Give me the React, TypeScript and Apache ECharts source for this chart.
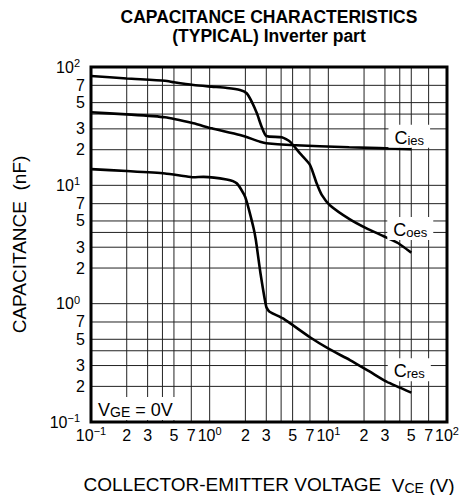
import React, { useEffect, useRef } from "react";
import * as echarts from "echarts";

// Axis ranges (log axes)
const X_MIN = 0.1;
const X_MAX = 100;
const Y_MIN = 0.1;
const Y_MAX = 100;

// Gridline values and labelled values
const gridValues = [0.1, 0.2, 0.3, 0.4, 0.5, 0.7, 1, 2, 3, 4, 5, 7, 10, 20, 30, 40, 50, 70, 100];
const labelValues = [0.1, 0.2, 0.3, 0.5, 0.7, 1, 2, 3, 5, 7, 10, 20, 30, 50, 70, 100];

// Curves: [VCE (V), capacitance (nF)]
const coes: [number, number][] = [
  [0.1, 84], [0.2, 80], [0.42, 76.6], [0.5, 74.3], [0.73, 70.4], [1.04, 68.2],
  [1.4, 66.5], [1.8, 64], [2.05, 60], [2.26, 51], [2.5, 40.6], [2.74, 31.3],
  [3.0, 26.1], [4.05, 25.5], [4.75, 23.4], [5.77, 18.6], [7.0, 14.9], [7.97, 10.4],
  [8.8, 8.3], [10.3, 6.8], [15.2, 5.16], [21, 4.33], [29, 3.73], [38.9, 3.24], [50, 2.7],
];
const cies: [number, number][] = [
  [0.1, 41.4], [0.2, 39.8], [0.42, 37.6], [0.73, 33.4], [1.04, 30.3], [1.8, 26.6],
  [2.66, 23.4], [3.0, 22.7], [4.75, 21.9], [15, 21], [50, 20.2],
];
const cres: [number, number][] = [
  [0.1, 13.7], [0.2, 13.2], [0.42, 12.6], [0.6, 12.0], [0.73, 11.7], [0.886, 11.8],
  [1.39, 11.2], [1.69, 10.4], [1.99, 8.0], [2.33, 4.47], [2.45, 3.45], [2.68, 1.81],
  [3.0, 0.94], [3.2, 0.855], [4.15, 0.75], [7.0, 0.52], [10.3, 0.41], [15.2, 0.334],
  [22.4, 0.266], [31, 0.219], [50, 0.177],
];

const FONT = "'Liberation Sans', Arial, Helvetica, sans-serif";
const GRID_COLOR = "#222";

function tickFmt(v: number): string {
  const lg = Math.log10(v);
  const e = Math.round(lg);
  if (Math.abs(lg - e) < 1e-6) {
    return `{b|10}{s|${e < 0 ? "\u2212" + -e : e}}`;
  }
  const m = Math.round(v / Math.pow(10, Math.floor(lg + 1e-9)));
  return `{m|${m}}`;
}

const tickRich = {
  b: { fontSize: 16, lineHeight: 18, fontFamily: FONT, color: "#000" },
  m: { fontSize: 16, lineHeight: 18, fontFamily: FONT, color: "#000" },
  s: { fontSize: 11, lineHeight: 10, padding: [0, 0, 8, 0], fontFamily: FONT, color: "#000" },
};

const curveRich = {
  c: { fontSize: 18, fontFamily: FONT, color: "#000", verticalAlign: "bottom", lineHeight: 20 },
  s: { fontSize: 13, fontFamily: FONT, color: "#000", verticalAlign: "bottom", lineHeight: 18 },
};

function curveSeries(name: string, data: [number, number][], sub: string, offset: [number, number]) {
  const last = data[data.length - 1];
  return {
    type: "line",
    name,
    data,
    showSymbol: false,
    smooth: 0.2,
    z: 5,
    lineStyle: { color: "#000", width: 2.6 },
    markPoint: {
      symbol: "rect",
      symbolSize: 0,
      silent: true,
      z: 6,
      data: [{ coord: last }],
      label: {
        show: true,
        position: "inside",
        offset,
        formatter: `{c|C}{s|${sub}}`,
        backgroundColor: "#fff",
        padding: [2, 6, 1, 6],
        rich: curveRich,
      },
    },
  };
}

export default function App() {
  const ref = useRef<HTMLDivElement>(null);
  useEffect(() => {
    document.body.style.margin = "0";
    document.body.style.background = "#fff";
    const chart = echarts.init(ref.current!, null, { renderer: "svg" });
    chart.setOption({
      animation: false,
      backgroundColor: "#fff",
      textStyle: { fontFamily: FONT },
      grid: {
        left: 91, right: 22, top: 67, bottom: 73,
        outerBoundsMode: "none",
        containLabel: false,
        show: false,
      },
      xAxis: {
        type: "log",
        logBase: 10,
        min: X_MIN,
        max: X_MAX,
        name: "COLLECTOR-EMITTER VOLTAGE  {v|V}{t|CE}{v| (V)}",
        nameLocation: "middle",
        nameGap: 51,
        nameTextStyle: {
          fontSize: 19, color: "#000", fontFamily: FONT,
          rich: {
            v: { fontSize: 19, fontFamily: FONT, color: "#000", verticalAlign: "bottom", lineHeight: 22 },
            t: { fontSize: 14, fontFamily: FONT, color: "#000", verticalAlign: "bottom", lineHeight: 19 },
          },
        },
        axisLine: { show: false },
        axisTick: { show: false },
        axisLabel: {
          customValues: labelValues,
          formatter: tickFmt,
          rich: tickRich,
          margin: 4,
          interval: 0,
          hideOverlap: false,
          showMinLabel: true,
          showMaxLabel: true,
        },
        splitLine: { show: false },
      },
      yAxis: {
        type: "log",
        logBase: 10,
        min: Y_MIN,
        max: Y_MAX,
        name: "CAPACITANCE  (nF)",
        nameLocation: "middle",
        nameGap: 62,
        nameTextStyle: { fontSize: 19, color: "#000", fontFamily: FONT },
        axisLine: { show: false },
        axisTick: { show: false },
        axisLabel: {
          customValues: labelValues,
          formatter: tickFmt,
          rich: {
            b: tickRich.b,
            m: tickRich.m,
            s: { ...tickRich.s, padding: [0, 5, 8, 0] },
          },
          margin: 6,
          interval: 0,
          hideOverlap: false,
          showMinLabel: true,
          showMaxLabel: true,
        },
        splitLine: { show: false },
      },
      graphic: [
        {
          type: "text",
          x: 269,
          y: 17,
          z: 20,
          style: {
            text: "CAPACITANCE CHARACTERISTICS",
            align: "center",
            verticalAlign: "middle",
            fontSize: 17.5,
            fontWeight: "bold",
            fontFamily: FONT,
            fill: "#000",
          },
        },
        {
          type: "text",
          x: 269,
          y: 35.5,
          z: 20,
          style: {
            text: "(TYPICAL) Inverter part",
            align: "center",
            verticalAlign: "middle",
            fontSize: 17.5,
            fontWeight: "bold",
            fontFamily: FONT,
            fill: "#000",
          },
        },
        {
          type: "text",
          x: 93,
          y: 397,
          z: 20,
          style: {
            text: "{v|V}{g|GE}{v| = 0V}",
            backgroundColor: "#fff",
            padding: [1, 4, 1, 5],
            rich: {
              v: { fontSize: 18, fontFamily: FONT, fill: "#000", color: "#000", verticalAlign: "bottom", lineHeight: 21 },
              g: { fontSize: 14, fontFamily: FONT, fill: "#000", color: "#000", verticalAlign: "bottom", lineHeight: 19 },
            },
          },
        },
      ],
      series: [
        {
          // vertical grid lines
          type: "custom",
          name: "vgrid",
          silent: true,
          z: 1,
          clip: false,
          data: gridValues.map((v) => [v, Y_MIN]),
          renderItem: (_p: any, api: any) => {
            const v = api.value(0);
            const a = api.coord([v, Y_MIN]);
            const b = api.coord([v, Y_MAX]);
            return {
              type: "line",
              shape: { x1: a[0], y1: a[1], x2: b[0], y2: b[1] },
              style: { stroke: GRID_COLOR, lineWidth: 1 },
            };
          },
        },
        {
          // horizontal grid lines
          type: "custom",
          name: "hgrid",
          silent: true,
          z: 1,
          clip: false,
          data: gridValues.map((v) => [X_MIN, v]),
          renderItem: (_p: any, api: any) => {
            const v = api.value(1);
            const a = api.coord([X_MIN, v]);
            const b = api.coord([X_MAX, v]);
            return {
              type: "line",
              shape: { x1: a[0], y1: a[1], x2: b[0], y2: b[1] },
              style: { stroke: GRID_COLOR, lineWidth: 1 },
            };
          },
        },
        curveSeries("Coes", coes, "oes", [-1, -24]),
        curveSeries("Cies", cies, "ies", [-2, -13]),
        curveSeries("Cres", cres, "res", [-2, -23]),
        {
          // frame
          type: "custom",
          name: "frame",
          silent: true,
          z: 8,
          clip: false,
          data: [[X_MIN, Y_MAX]],
          renderItem: (_p: any, api: any) => {
            const a = api.coord([X_MIN, Y_MAX]);
            const b = api.coord([X_MAX, Y_MIN]);
            return {
              type: "rect",
              shape: { x: a[0], y: a[1], width: b[0] - a[0], height: b[1] - a[1] },
              style: { stroke: "#000", lineWidth: 3, fill: "none" },
            };
          },
        },
      ],
    });
    return () => chart.dispose();
  }, []);
  return <div ref={ref} style={{ width: 469, height: 495 }} />;
}
